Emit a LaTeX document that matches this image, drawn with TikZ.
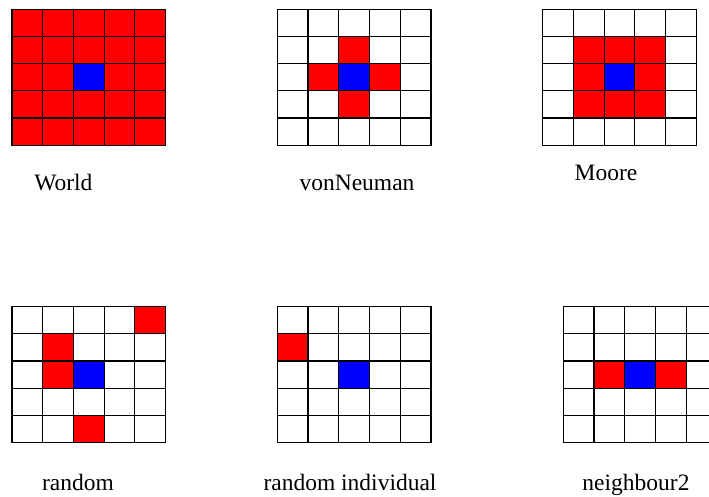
\documentclass[tikz,border=0pt]{standalone}
\usepackage{fontspec}
\setmainfont{Liberation Serif}
\tikzset{
  cellline/.style={draw=black, line width=1.1pt},
  lab/.style={anchor=base, inner sep=0pt, font=\fontsize{23.5}{28}\selectfont},
}
\newcommand{\cw}{30.73}
\newcommand{\ch}{27.17}
% #1 x0, #2 y0, #3 red cells c/r, #4 blue cells c/r
\newcommand{\cellgrid}[4]{%
  \foreach \c/\r in {#3} {\fill[red] ({#1+\c*\cw},{#2+\r*\ch}) rectangle ++(\cw,\ch);}
  \foreach \c/\r in {#4} {\fill[blue] ({#1+\c*\cw},{#2+\r*\ch}) rectangle ++(\cw,\ch);}
  \foreach \c in {0,...,4} {\foreach \r in {0,...,4} {\draw[cellline] ({#1+\c*\cw},{#2+\r*\ch}) rectangle ++(\cw,\ch);}}
}
\begin{document}
\begin{tikzpicture}[x=1pt,y=-1pt]
\useasboundingbox (0,0) rectangle (709,496);
\clip (0,0) rectangle (709,496);
% World
\fill[red] (12,9.3) rectangle ++(153.65,135.85);
\cellgrid{12}{9.3}{}{2/2}
% vonNeuman
\cellgrid{277.3}{9.3}{2/1,1/2,3/2,2/3}{2/2}
% Moore
\cellgrid{542.7}{9.3}{1/1,2/1,3/1,1/2,3/2,1/3,2/3,3/3}{2/2}
% random
\cellgrid{12}{306.7}{4/0,1/1,1/2,2/4}{2/2}
% random individual
\cellgrid{277.3}{306.7}{0/1}{2/2}
% neighbour2
\cellgrid{563.3}{306.7}{1/2,3/2}{2/2}
\node[lab] (lworld) at (63.4,190) {World};
\node[lab] (lvon) at (357,190) {vonNeuman};
\node[lab] (lmoore) at (606,180) {Moore};
\node[lab] (lrand) at (78,490) {random};
\node[lab] (lrandi) at (350,490) {random individual};
\node[lab] (lneigh) at (636,490) {neighbour2};
\end{tikzpicture}
\end{document}
